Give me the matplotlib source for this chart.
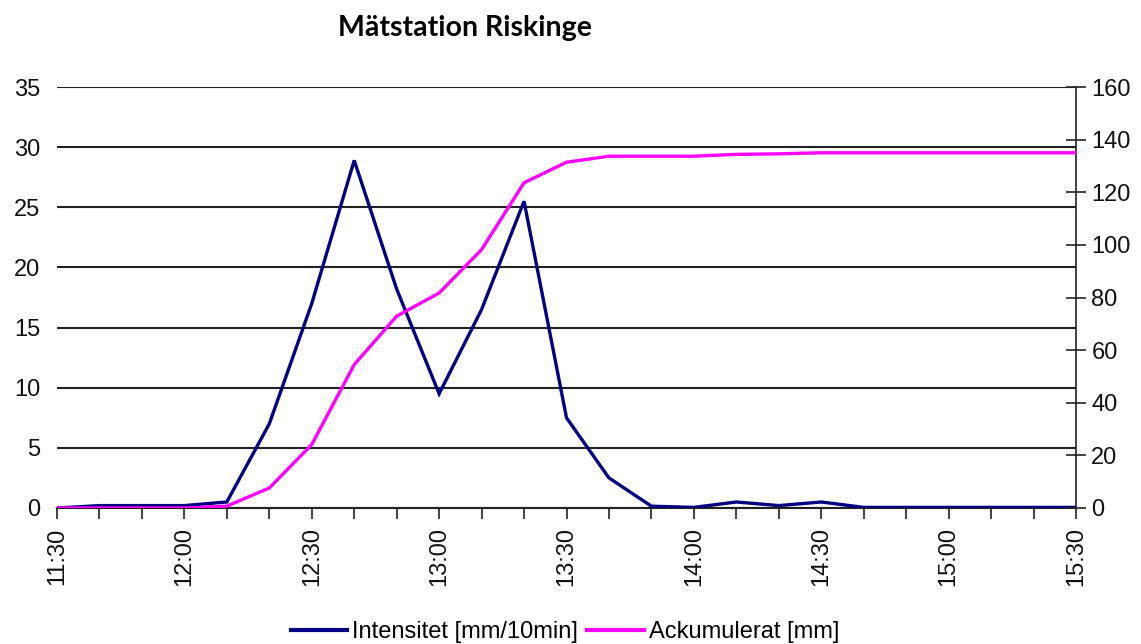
import matplotlib
matplotlib.use("Agg")
import matplotlib.pyplot as plt
from matplotlib.lines import Line2D

times = ["11:30","11:40","11:50","12:00","12:10","12:20","12:30","12:40","12:50",
         "13:00","13:10","13:20","13:30","13:40","13:50","14:00","14:10","14:20",
         "14:30","14:40","14:50","15:00","15:10","15:20","15:30"]
intensitet = [0, 0.2, 0.2, 0.2, 0.5, 7.0, 17.0, 28.9, 18.2, 9.5, 16.5, 25.5, 7.5,
              2.5, 0.15, 0.05, 0.5, 0.2, 0.5, 0.05, 0.05, 0.05, 0.05, 0.05, 0.05]
ackumulerat = [0, 0, 0, 0, 0.7, 7.6, 24.1, 54.5, 72.9, 81.7, 98.2, 123.6, 131.4,
               133.7, 133.7, 133.7, 134.4, 134.6, 135.0, 135.0, 135.0, 135.0, 135.0, 135.0, 135.0]
left_ticks = [0, 5, 10, 15, 20, 25, 30, 35]
right_ticks = [0, 20, 40, 60, 80, 100, 120, 140, 160]
title = "Mätstation Riskinge"
label_i = "Intensitet [mm/10min]"
label_a = "Ackumulerat [mm]"

plt.rcParams['font.family'] = ['Liberation Sans', 'DejaVu Sans']

fig = plt.figure(figsize=(11.41, 6.44), dpi=100)
ax = fig.add_axes([57/1141, 1-508/644, (1076-57)/1141, (508-87)/644])
x = list(range(len(times)))

ax.set_xlim(0, len(times)-1)
ax.set_ylim(0, 35)
ax.set_yticks(left_ticks)
ax.set_yticklabels([str(t) for t in left_ticks], fontsize=17, color='#111111')
ax.tick_params(axis='y', length=0, pad=12)
for t in left_ticks:
    ax.axhline(t, color='#222222', lw=1.5, zorder=1)
ax.set_xticks(x)
ax.set_xticklabels([t if i % 3 == 0 else "" for i, t in enumerate(times)],
                   rotation=90, fontsize=17, color='#111111')
ax.tick_params(axis='x', direction='out', length=8, width=1.2, color='#222222', pad=6)
for s in ['left', 'top', 'right']:
    ax.spines[s].set_visible(False)
ax.spines['bottom'].set_linewidth(1.5)
ax.spines['bottom'].set_color('#222222')

ax.plot(x, intensitet, color='#000080', lw=2.4, zorder=3, solid_joinstyle='miter')

ax2 = ax.twinx()
ax2.set_ylim(0, 160)
ax2.set_yticks(right_ticks)
ax2.set_yticklabels([str(t) for t in right_ticks], fontsize=17, color='#111111')
ax2.tick_params(axis='y', direction='inout', length=14, width=1.2, color='#222222', pad=4)
for s in ['left', 'top', 'bottom']:
    ax2.spines[s].set_visible(False)
ax2.spines['right'].set_linewidth(1.2)
ax2.spines['right'].set_color('#222222')
ax2.plot(x, ackumulerat, color='#FF00FF', lw=2.4, zorder=3)

fig.text(465/1141, 1-28/644, title, fontsize=20.5, fontweight='bold',
         family=['Lato', 'DejaVu Sans'], ha='center', va='center')

handles = [Line2D([], [], color='#000080', lw=3), Line2D([], [], color='#FF00FF', lw=3)]
fig.legend(handles, [label_i, label_a], loc='center', bbox_to_anchor=(565/1141, 1-632/644),
           ncol=2, frameon=False, fontsize=17, handlelength=2.4, handletextpad=0.2,
           columnspacing=0.4)

fig.savefig("out.png", dpi=100)
